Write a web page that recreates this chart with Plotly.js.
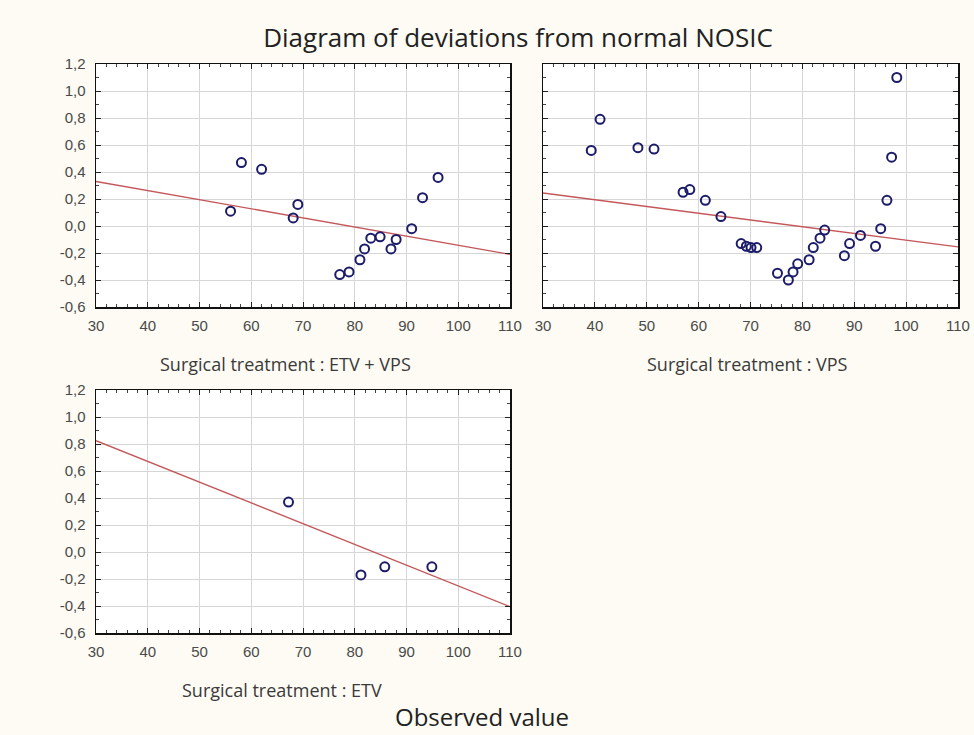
<!DOCTYPE html>
<html>
<head>
<meta charset="utf-8">
<script src="https://cdn.plot.ly/plotly-3.0.1.min.js"></script>
<style>
  html, body { margin: 0; padding: 0; background: #fdfbf3; }
  #chart { width: 974px; height: 735px; }
</style>
</head>
<body>
<div id="chart"></div>
<script>
// ---- Data ----
const panelLabels = ["Surgical treatment : ETV + VPS", "Surgical treatment : VPS", "Surgical treatment : ETV"];
const chartTitle = "Diagram of deviations from normal NOSIC";
const bottomTitle = "Observed value";

// ETV + VPS
const etvVpsX = [56.0, 58.1, 62.0, 68.1, 69.0, 77.1, 78.9, 81.0, 81.9, 83.1, 84.9, 87.0, 88.0, 91.0, 93.1, 96.1];
const etvVpsY = [0.11, 0.47, 0.42, 0.06, 0.16, -0.36, -0.34, -0.25, -0.17, -0.09, -0.08, -0.17, -0.10, -0.02, 0.21, 0.36];

// VPS
const vpsX = [39.3, 41.0, 48.3, 51.4, 57.0, 58.3, 61.3, 64.3, 68.2, 69.2, 70.1, 71.2, 75.2, 77.3, 78.2, 79.1, 81.3, 82.1, 83.4, 84.3, 88.1, 89.1, 91.2, 94.1, 95.1, 96.3, 97.2, 98.2];
const vpsY = [0.56, 0.79, 0.58, 0.57, 0.25, 0.27, 0.19, 0.07, -0.13, -0.15, -0.16, -0.16, -0.35, -0.40, -0.34, -0.28, -0.25, -0.16, -0.09, -0.03, -0.22, -0.13, -0.07, -0.15, -0.02, 0.19, 0.51, 1.10];

// ETV
const etvX = [67.2, 81.2, 85.8, 94.9];
const etvY = [0.37, -0.17, -0.11, -0.11];

// Fitted lines (end points)
const fitX = [30, 110];
const fitEtvVps = [0.33, -0.21];
const fitVps = [0.245, -0.155];
const fitEtv = [0.825, -0.405];

// Ticks
const xTickVals = [30, 40, 50, 60, 70, 80, 90, 100, 110];
const xTickText = ["30", "40", "50", "60", "70", "80", "90", "100", "110"];
const yTickVals = [-0.6, -0.4, -0.2, 0.0, 0.2, 0.4, 0.6, 0.8, 1.0, 1.2];
const yTickText = ["-0,6", "-0,4", "-0,2", "0,0", "0,2", "0,4", "0,6", "0,8", "1,0", "1,2"];

// ---- Styling ----
const W = 974, H = 735;
const markerColor = "#1c1c6a";
const lineColor = "#c4575a";
const tickFont = { family: "Liberation Sans, Arial, sans-serif", size: 15, color: "#4a4a4a" };
const labelFont = { family: "Open Sans, sans-serif", size: 18, color: "#3a3a3a" };

function px(a, b) { return [a / W, b / W]; }
function py(top, bottom) { return [1 - bottom / H, 1 - top / H]; }

function xAxis(domain, anchor) {
  return {
    domain: domain, anchor: anchor, range: [30, 110],
    tickmode: "array", tickvals: xTickVals, ticktext: xTickText,
    ticks: "inside", ticklen: 5, tickwidth: 1, tickcolor: "#222",
    minor: { dtick: 2, ticks: "inside", ticklen: 3, tickcolor: "#444", showgrid: false },
    showgrid: true, gridcolor: "#d6d6d6", gridwidth: 1,
    showline: true, linecolor: "#111", linewidth: 1.5, mirror: "allticks",
    zeroline: false, tickfont: tickFont, ticklabelstandoff: 4, fixedrange: true
  };
}
function yAxis(domain, anchor, showLabels) {
  return {
    domain: domain, anchor: anchor, range: [-0.6, 1.2],
    tickmode: "array", tickvals: yTickVals, ticktext: yTickText,
    showticklabels: showLabels,
    ticks: "inside", ticklen: 5, tickwidth: 1, tickcolor: "#222",
    minor: { dtick: 0.1, ticks: "inside", ticklen: 3, tickcolor: "#444", showgrid: false },
    showgrid: true, gridcolor: "#d6d6d6", gridwidth: 1,
    showline: true, linecolor: "#111", linewidth: 1.5, mirror: "allticks",
    zeroline: false, tickfont: tickFont, ticklabelstandoff: 6, fixedrange: true
  };
}

function scatter(x, y, xa, ya) {
  return {
    x: x, y: y, xaxis: xa, yaxis: ya, type: "scatter", mode: "markers",
    cliponaxis: false,
    marker: { symbol: "circle-open", size: 9, color: markerColor, line: { width: 2, color: markerColor } },
    hoverinfo: "x+y", showlegend: false
  };
}
function fit(y, xa, ya) {
  return {
    x: fitX, y: y, xaxis: xa, yaxis: ya, type: "scatter", mode: "lines",
    line: { color: lineColor, width: 1.4 }, hoverinfo: "skip", showlegend: false
  };
}

const data = [
  fit(fitEtvVps, "x", "y"), scatter(etvVpsX, etvVpsY, "x", "y"),
  fit(fitVps, "x2", "y2"), scatter(vpsX, vpsY, "x2", "y2"),
  fit(fitEtv, "x3", "y3"), scatter(etvX, etvY, "x3", "y3")
];

const layout = {
  width: W, height: H,
  margin: { l: 0, r: 0, t: 0, b: 0 },
  paper_bgcolor: "#fdfbf3", plot_bgcolor: "#ffffff",
  showlegend: false,
  title: {
    text: chartTitle, x: 518 / W, xanchor: "center", xref: "paper",
    y: 1 - 38 / H, yanchor: "middle", yref: "paper",
    font: { family: "Open Sans, sans-serif", size: 26, color: "#222" }
  },
  xaxis: xAxis(px(96, 510), "y"),
  yaxis: yAxis(py(64, 307), "x", true),
  xaxis2: xAxis(px(543, 958), "y2"),
  yaxis2: yAxis(py(64, 307), "x2", false),
  xaxis3: xAxis(px(96, 510), "y3"),
  yaxis3: yAxis(py(390, 633), "x3", true),
  annotations: [
    { text: panelLabels[0], xref: "paper", yref: "paper", x: 285 / W, y: 1 - 364 / H, xanchor: "center", yanchor: "middle", showarrow: false, font: labelFont },
    { text: panelLabels[1], xref: "paper", yref: "paper", x: 747 / W, y: 1 - 364 / H, xanchor: "center", yanchor: "middle", showarrow: false, font: labelFont },
    { text: panelLabels[2], xref: "paper", yref: "paper", x: 282 / W, y: 1 - 690 / H, xanchor: "center", yanchor: "middle", showarrow: false, font: labelFont },
    { text: bottomTitle, xref: "paper", yref: "paper", x: 482 / W, y: 1 - 716 / H, xanchor: "center", yanchor: "middle", showarrow: false, font: { family: "Open Sans, sans-serif", size: 24, color: "#222" } }
  ]
};

Plotly.newPlot("chart", data, layout, { displayModeBar: false, staticPlot: true });
</script>
</body>
</html>
